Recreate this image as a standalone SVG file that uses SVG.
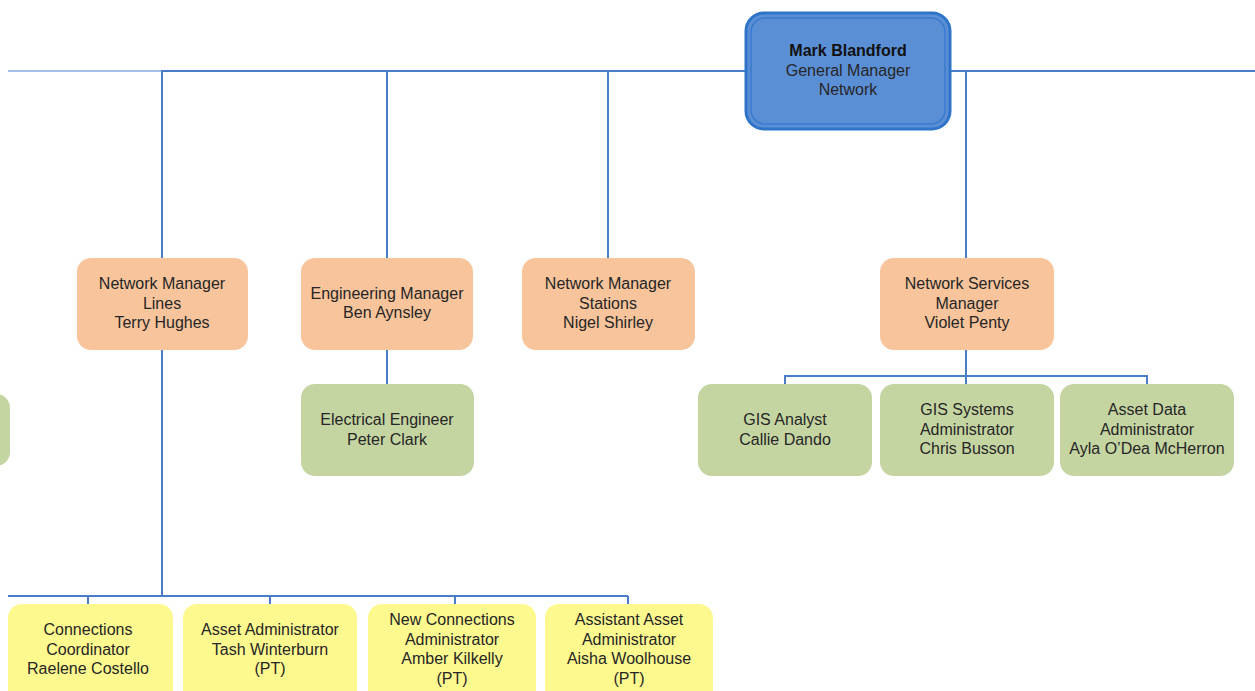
<svg xmlns="http://www.w3.org/2000/svg" width="1255" height="691" viewBox="0 0 1255 691">
<style>
  .t { font-family: "Liberation Sans", Arial, sans-serif; font-size: 16px; fill: #262626; text-anchor: middle; }
  .b { font-weight: bold; fill: #111; }
  .orange { fill: #f7c49b; }
  .green { fill: #c5d5a2; }
  .yellow { fill: #fdf98f; }
  .ln { stroke: #4a7cc7; stroke-width: 2; fill: none; }
  .ln2 { stroke: #a9c0e6; stroke-width: 2; fill: none; }
</style>
<rect width="1255" height="691" fill="#ffffff"/>
<g id="connectors">
  <line class="ln2" x1="8" y1="71" x2="162" y2="71"/>
  <polyline class="ln" points="162,258 162,71 1255,71"/>
  <line class="ln" x1="387" y1="71" x2="387" y2="258"/>
  <line class="ln" x1="608" y1="71" x2="608" y2="258"/>
  <line class="ln" x1="966" y1="71" x2="966" y2="258"/>
  <line class="ln" x1="387" y1="350" x2="387" y2="384"/>
  <line class="ln" x1="966" y1="350" x2="966" y2="384"/>
  <polyline class="ln" points="785,384 785,376 1147,376 1147,384"/>
  <line class="ln" x1="162" y1="350" x2="162" y2="596"/>
  <polyline class="ln" points="8,596 628,596"/>
  <line class="ln" x1="88" y1="596" x2="88" y2="604"/>
  <line class="ln" x1="270" y1="596" x2="270" y2="604"/>
  <line class="ln" x1="455" y1="596" x2="455" y2="604"/>
  <line class="ln" x1="628" y1="596" x2="628" y2="604"/>
</g>
<g id="mark">
  <rect x="746" y="13" width="204" height="116" rx="18" fill="#5b8fd5" stroke="#2f74c9" stroke-width="3"/>
  <rect x="751" y="18" width="194" height="106" rx="14" fill="none" stroke="#3b7bcc" stroke-width="1.5"/>
  <text class="t b" x="848" y="56">Mark Blandford</text>
  <text class="t" x="848" y="76">General Manager</text>
  <text class="t" x="848" y="95">Network</text>
</g>
<g id="terry">
  <rect class="orange" x="77" y="258" width="171" height="92" rx="14"/>
  <text class="t" x="162" y="289">Network Manager</text>
  <text class="t" x="162" y="309">Lines</text>
  <text class="t" x="162" y="328">Terry Hughes</text>
</g>
<g id="ben">
  <rect class="orange" x="301" y="258" width="172" height="92" rx="14"/>
  <text class="t" x="387" y="299">Engineering Manager</text>
  <text class="t" x="387" y="318">Ben Aynsley</text>
</g>
<g id="nigel">
  <rect class="orange" x="522" y="258" width="173" height="92" rx="14"/>
  <text class="t" x="608" y="289">Network Manager</text>
  <text class="t" x="608" y="309">Stations</text>
  <text class="t" x="608" y="328">Nigel Shirley</text>
</g>
<g id="violet">
  <rect class="orange" x="880" y="258" width="174" height="92" rx="14"/>
  <text class="t" x="967" y="289">Network Services</text>
  <text class="t" x="967" y="309">Manager</text>
  <text class="t" x="967" y="328">Violet Penty</text>
</g>
<g id="left-partial">
  <rect class="green" x="-170" y="394" width="180" height="72" rx="14"/>
</g>
<g id="peter">
  <rect class="green" x="301" y="384" width="173" height="92" rx="14"/>
  <text class="t" x="387" y="425">Electrical Engineer</text>
  <text class="t" x="387" y="445">Peter Clark</text>
</g>
<g id="callie">
  <rect class="green" x="698" y="384" width="174" height="92" rx="14"/>
  <text class="t" x="785" y="425">GIS Analyst</text>
  <text class="t" x="785" y="445">Callie Dando</text>
</g>
<g id="chris">
  <rect class="green" x="880" y="384" width="174" height="92" rx="14"/>
  <text class="t" x="967" y="415">GIS Systems</text>
  <text class="t" x="967" y="435">Administrator</text>
  <text class="t" x="967" y="454">Chris Busson</text>
</g>
<g id="ayla">
  <rect class="green" x="1060" y="384" width="174" height="92" rx="14"/>
  <text class="t" x="1147" y="415">Asset Data</text>
  <text class="t" x="1147" y="435">Administrator</text>
  <text class="t" x="1147" y="454">Ayla O’Dea McHerron</text>
</g>
<g id="raelene">
  <rect class="yellow" x="8" y="604" width="165" height="100" rx="14"/>
  <text class="t" x="88" y="635">Connections</text>
  <text class="t" x="88" y="655">Coordinator</text>
  <text class="t" x="88" y="674">Raelene Costello</text>
</g>
<g id="tash">
  <rect class="yellow" x="183" y="604" width="174" height="100" rx="14"/>
  <text class="t" x="270" y="635">Asset Administrator</text>
  <text class="t" x="270" y="655">Tash Winterburn</text>
  <text class="t" x="270" y="674">(PT)</text>
</g>
<g id="amber">
  <rect class="yellow" x="368" y="604" width="168" height="100" rx="14"/>
  <text class="t" x="452" y="625">New Connections</text>
  <text class="t" x="452" y="645">Administrator</text>
  <text class="t" x="452" y="664">Amber Kilkelly</text>
  <text class="t" x="452" y="684">(PT)</text>
</g>
<g id="aisha">
  <rect class="yellow" x="545" y="604" width="168" height="100" rx="14"/>
  <text class="t" x="629" y="625">Assistant Asset</text>
  <text class="t" x="629" y="645">Administrator</text>
  <text class="t" x="629" y="664">Aisha Woolhouse</text>
  <text class="t" x="629" y="684">(PT)</text>
</g>
</svg>
